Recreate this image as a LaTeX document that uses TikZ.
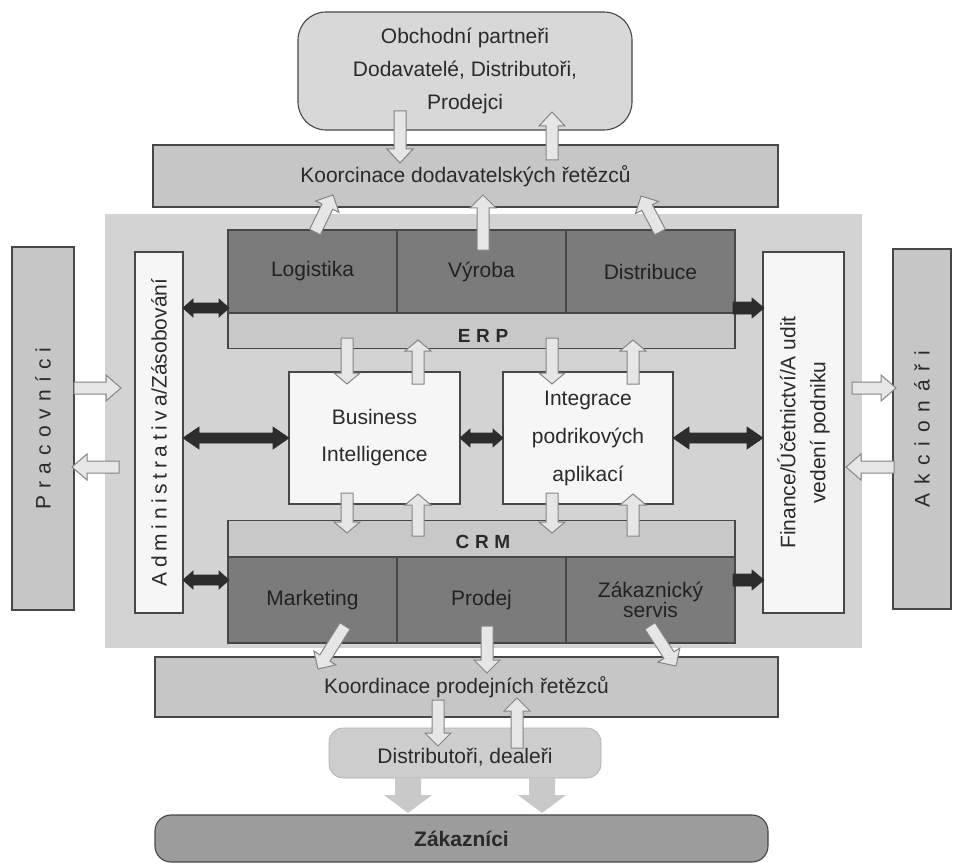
\documentclass[tikz,border=0pt]{standalone}
\usepackage{fontspec}
\setmainfont{Liberation Sans}
\usetikzlibrary{calc}

\definecolor{panelgray}{HTML}{D3D3D3}
\definecolor{bargray}{HTML}{C6C6C6}
\definecolor{stripgray}{HTML}{C8C8C8}
\definecolor{cellgray}{HTML}{7B7B7B}
\definecolor{boxwhite}{HTML}{F6F6F6}
\definecolor{topgray}{HTML}{D8D8D8}
\definecolor{distgray}{HTML}{CDCDCD}
\definecolor{custgray}{HTML}{9C9C9C}
\definecolor{edgegray}{HTML}{474747}
\definecolor{txtgray}{HTML}{2A2A2A}
\definecolor{hollowfill}{HTML}{E6E6E6}
\definecolor{hollowedge}{HTML}{858585}
\definecolor{darkarrow}{HTML}{2C2C2C}
\definecolor{softarrow}{HTML}{C9C9C9}

% block arrow with one head: style, shaft half width, head half width, head length, from, to
\newcommand\onearrow[6]{%
  \coordinate (ba-h) at ($(#6)!#4!(#5)$);
  \path[#1] ($(#5)!#2!90:(#6)$) -- ($(ba-h)!#2!90:(#6)$) -- ($(ba-h)!#3!90:(#6)$)
    -- (#6) -- ($(ba-h)!#3!-90:(#6)$) -- ($(ba-h)!#2!-90:(#6)$)
    -- ($(#5)!#2!-90:(#6)$) -- cycle;}
% block arrow with heads at both ends
\newcommand\twoarrow[6]{%
  \coordinate (ba-a) at ($(#5)!#4!(#6)$);
  \coordinate (ba-b) at ($(#6)!#4!(#5)$);
  \path[#1] (#5) -- ($(ba-a)!#3!90:(#6)$) -- ($(ba-a)!#2!90:(#6)$)
    -- ($(ba-b)!#2!90:(#6)$) -- ($(ba-b)!#3!90:(#6)$) -- (#6)
    -- ($(ba-b)!#3!-90:(#6)$) -- ($(ba-b)!#2!-90:(#6)$)
    -- ($(ba-a)!#2!-90:(#6)$) -- ($(ba-a)!#3!-90:(#6)$) -- cycle;}

\begin{document}
\begin{tikzpicture}[x=1pt,y=-1pt,
  font=\fontsize{21}{26}\selectfont,
  every node/.style={text=txtgray, inner sep=0pt},
  box/.style={draw=edgegray, line width=1.1pt},
  cell/.style={box, fill=cellgray, minimum width=169pt, minimum height=83pt, text=txtgray!80!black},
  strip/.style={box, fill=stripgray, minimum width=507pt, minimum height=36pt},
  whitebox/.style={box, fill=boxwhite},
  hollow/.style={fill=hollowfill, draw=hollowedge, line width=1pt, line join=miter},
  dark/.style={fill=darkarrow, draw=darkarrow, line width=0.6pt},
  soft/.style={fill=softarrow}]

\useasboundingbox (0,0) rectangle (954,864);
\fill[white] (0,0) rectangle (954,864);

% central panel
\node[fill=panelgray, minimum width=757pt, minimum height=434pt] (panel) at (483.5,431) {};

% business partners and supply chain coordination
\node[box, fill=topgray, rounded corners=28pt, minimum width=334pt, minimum height=118pt,
      align=center, font=\fontsize{21}{33}\selectfont] (partners) at (465,71)
  {Obchodní partneři\\Dodavatelé, Distributoři,\\Prodejci};
\node[box, fill=bargray, minimum width=625pt, minimum height=62pt] (supply) at (465.5,176)
  {Koorcinace dodavatelských řetězců};

% ERP block
\node[strip] (erpstrip) at (481.5,330.5) {};
\node[font=\bfseries\fontsize{19}{22}\selectfont\addfontfeature{LetterSpace=30}] (erplabel) at (483,336) {ERP};
\node[cell] (logistika) at (312.5,271.5) {Logistika};
\node[cell] (vyroba) at (481.5,271.5) {Výroba};
\node[cell] (distribuce) at (650.5,271.5) {Distribuce};

% CRM block
\node[strip] (crmstrip) at (481.5,538.5) {};
\node[font=\bfseries\fontsize{19}{22}\selectfont\addfontfeature{LetterSpace=30}] (crmlabel) at (483,542) {CRM};
\node[cell, minimum height=86pt] (marketing) at (312.5,600) {Marketing};
\node[cell, minimum height=86pt] (prodej) at (481.5,600) {Prodej};
\node[cell, minimum height=86pt, align=center, font=\fontsize{21}{18}\selectfont] (servis) at (650.5,600)
  {Zákaznický\\servis};

% middle boxes
\node[whitebox, minimum width=171pt, minimum height=132pt, align=center,
      font=\fontsize{21}{37}\selectfont] (bi) at (374.5,438) {Business\\Intelligence};
\node[whitebox, minimum width=170pt, minimum height=132pt, align=center,
      font=\fontsize{21}{38}\selectfont] (eai) at (588,438) {Integrace\\podrikových\\aplikací};

% side boxes
\node[whitebox, minimum width=361pt, minimum height=48pt, rotate=90] (admin) at (159,432.5)
  {{\addfontfeature{LetterSpace=22}Administrativa}/Zásobování};
\node[whitebox, minimum width=361pt, minimum height=81pt, rotate=90, align=center,
      font=\fontsize{21}{30}\selectfont] (finance) at (803.5,432.5)
  {Finance/Účetnictví/A udit\\vedení podniku};
\node[box, fill=bargray, minimum width=363pt, minimum height=62pt, rotate=90] (workers) at (43,428.5)
  {\addfontfeature{LetterSpace=34}Pracovníci};
\node[box, fill=bargray, minimum width=360pt, minimum height=58pt, rotate=90] (owners) at (922,429)
  {\addfontfeature{LetterSpace=42}Akcionáři};

% sales chain
\node[box, fill=bargray, minimum width=623pt, minimum height=60pt] (sales) at (466.5,687)
  {Koordinace prodejních řetězců};
\node[draw=distgray!85!black, line width=0.6pt, fill=distgray, rounded corners=14pt,
      minimum width=272pt, minimum height=50pt] (dealers) at (465,753) {};
\node[box, fill=custgray, rounded corners=16pt, minimum width=613pt, minimum height=47pt,
      font=\bfseries\fontsize{21}{26}\selectfont] (customers) at (461.5,838.5) {Zákazníci};

% arrow end points
\coordinate (pd1) at (400,111);  \coordinate (pd2) at (400,163);
\coordinate (pu1) at (552,160);  \coordinate (pu2) at (552,112);
\coordinate (lg1) at (315,232);  \coordinate (lg2) at (333,195);
\coordinate (vy1) at (483,250);  \coordinate (vy2) at (483,195);
\coordinate (ds1) at (660,232);  \coordinate (ds2) at (641,196);
\coordinate (eb1) at (347,338);  \coordinate (eb2) at (347,384);
\coordinate (be1) at (418,384);  \coordinate (be2) at (418,340);
\coordinate (ei1) at (552,338);  \coordinate (ei2) at (552,384);
\coordinate (ie1) at (633,384);  \coordinate (ie2) at (633,340);
\coordinate (bc1) at (347,493);  \coordinate (bc2) at (347,533);
\coordinate (cb1) at (418,536);  \coordinate (cb2) at (418,494);
\coordinate (ic1) at (552,493);  \coordinate (ic2) at (552,533);
\coordinate (ci1) at (633,536);  \coordinate (ci2) at (633,494);
\coordinate (mk1) at (345,626);  \coordinate (mk2) at (318,669);
\coordinate (pr1) at (487,626);  \coordinate (pr2) at (487,673);
\coordinate (zs1) at (650,626);  \coordinate (zs2) at (676,666);
\coordinate (sd1) at (438,700);  \coordinate (sd2) at (438,746);
\coordinate (ds3) at (517,748);  \coordinate (ds4) at (517,698);
\coordinate (dc1) at (408,778);  \coordinate (dc2) at (408,813);
\coordinate (dc3) at (542,778);  \coordinate (dc4) at (542,813);
\coordinate (wa1) at (74,388);   \coordinate (wa2) at (121,388);
\coordinate (aw1) at (119,467);  \coordinate (aw2) at (72,467);
\coordinate (fo1) at (852,388);  \coordinate (fo2) at (896,388);
\coordinate (of1) at (894,467);  \coordinate (of2) at (846,467);
\coordinate (ae1) at (183,308);  \coordinate (ae2) at (229,308);
\coordinate (ac1) at (183,580);  \coordinate (ac2) at (229,580);
\coordinate (ab1) at (183,438);  \coordinate (ab2) at (289,438);
\coordinate (bi1) at (460,438);  \coordinate (bi2) at (503,438);
\coordinate (if1) at (673,438);  \coordinate (if2) at (763,438);
\coordinate (ef1) at (733,308);  \coordinate (ef2) at (764,308);
\coordinate (cf1) at (733,580);  \coordinate (cf2) at (764,580);

% partners <-> supply chain
\onearrow{hollow}{6pt}{13pt}{14pt}{pd1}{pd2}
\onearrow{hollow}{6pt}{13pt}{14pt}{pu1}{pu2}
% ERP -> supply chain
\onearrow{hollow}{6pt}{13pt}{13pt}{lg1}{lg2}
\onearrow{hollow}{6pt}{13pt}{13pt}{vy1}{vy2}
\onearrow{hollow}{6pt}{13pt}{13pt}{ds1}{ds2}
% ERP <-> middle boxes
\onearrow{hollow}{6pt}{13pt}{11pt}{eb1}{eb2}
\onearrow{hollow}{6pt}{13pt}{11pt}{be1}{be2}
\onearrow{hollow}{6pt}{13pt}{11pt}{ei1}{ei2}
\onearrow{hollow}{6pt}{13pt}{11pt}{ie1}{ie2}
% middle boxes <-> CRM
\onearrow{hollow}{6pt}{13pt}{11pt}{bc1}{bc2}
\onearrow{hollow}{6pt}{13pt}{11pt}{cb1}{cb2}
\onearrow{hollow}{6pt}{13pt}{11pt}{ic1}{ic2}
\onearrow{hollow}{6pt}{13pt}{11pt}{ci1}{ci2}
% CRM -> sales chain
\onearrow{hollow}{6pt}{13pt}{13pt}{mk1}{mk2}
\onearrow{hollow}{6pt}{13pt}{13pt}{pr1}{pr2}
\onearrow{hollow}{6pt}{13pt}{13pt}{zs1}{zs2}
% sales chain <-> dealers
\onearrow{hollow}{6pt}{13pt}{13pt}{sd1}{sd2}
\onearrow{hollow}{6pt}{13pt}{13pt}{ds3}{ds4}
% dealers label over the arrow ends
\node (dealerstext) at (465,757) {Distributoři, dealeři};
% dealers -> customers
\onearrow{soft}{13pt}{24pt}{18pt}{dc1}{dc2}
\onearrow{soft}{13pt}{24pt}{18pt}{dc3}{dc4}
% employees and shareholders
\onearrow{hollow}{6pt}{13pt}{15pt}{wa1}{wa2}
\onearrow{hollow}{6pt}{13pt}{15pt}{aw1}{aw2}
\onearrow{hollow}{6pt}{13pt}{15pt}{fo1}{fo2}
\onearrow{hollow}{6pt}{13pt}{15pt}{of1}{of2}
% dark links
\twoarrow{dark}{5pt}{9pt}{10pt}{ae1}{ae2}
\twoarrow{dark}{5pt}{9pt}{10pt}{ac1}{ac2}
\twoarrow{dark}{5pt}{11pt}{16pt}{ab1}{ab2}
\twoarrow{dark}{5pt}{9pt}{10pt}{bi1}{bi2}
\twoarrow{dark}{5pt}{11pt}{16pt}{if1}{if2}
\onearrow{dark}{6pt}{10pt}{12pt}{ef1}{ef2}
\onearrow{dark}{6pt}{10pt}{12pt}{cf1}{cf2}
\end{tikzpicture}
\end{document}
